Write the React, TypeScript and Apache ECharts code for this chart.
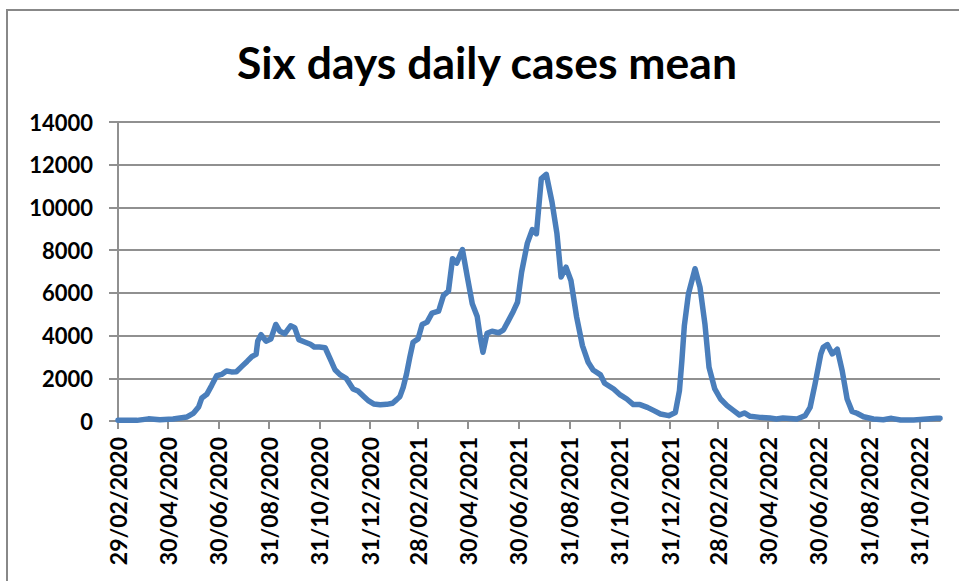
import React, { useEffect, useRef } from "react";
import * as echarts from "echarts";

const TITLE = "Six days daily cases mean";
const START_DATE = "2020-02-29";
const END_DATE = "2022-11-25";

const TICK_LABELS = [
  "29/02/2020", "30/04/2020", "30/06/2020", "31/08/2020", "31/10/2020", "31/12/2020",
  "28/02/2021", "30/04/2021", "30/06/2021", "31/08/2021", "31/10/2021", "31/12/2021",
  "28/02/2022", "30/04/2022", "30/06/2022", "31/08/2022", "31/10/2022",
];

const Y_TICKS = [0, 2000, 4000, 6000, 8000, 10000, 12000, 14000];

const pointDates = [
  "2020-02-29", "2020-03-23", "2020-04-06", "2020-04-20", "2020-05-06", "2020-05-23", "2020-05-31",
  "2020-06-06", "2020-06-10", "2020-06-16", "2020-06-22", "2020-06-28", "2020-07-04", "2020-07-10",
  "2020-07-16", "2020-07-22", "2020-07-29", "2020-08-04", "2020-08-10", "2020-08-15", "2020-08-17",
  "2020-08-21", "2020-08-27", "2020-09-02", "2020-09-08", "2020-09-13", "2020-09-19", "2020-09-26",
  "2020-10-01", "2020-10-06", "2020-10-13", "2020-10-20", "2020-10-25", "2020-10-31", "2020-11-07",
  "2020-11-13", "2020-11-19", "2020-11-25", "2020-12-03", "2020-12-11", "2020-12-17", "2020-12-24",
  "2020-12-30", "2021-01-05", "2021-01-13", "2021-01-21", "2021-01-28", "2021-02-02", "2021-02-06",
  "2021-02-10", "2021-02-14", "2021-02-18", "2021-02-22", "2021-02-28", "2021-03-05", "2021-03-11",
  "2021-03-17", "2021-03-25", "2021-03-31", "2021-04-06", "2021-04-11", "2021-04-16", "2021-04-23",
  "2021-04-29", "2021-05-05", "2021-05-11", "2021-05-15", "2021-05-18", "2021-05-23", "2021-05-29",
  "2021-06-06", "2021-06-12", "2021-06-18", "2021-06-24", "2021-06-29", "2021-07-04", "2021-07-11",
  "2021-07-17", "2021-07-22", "2021-07-28", "2021-08-03", "2021-08-10", "2021-08-16", "2021-08-21",
  "2021-08-27", "2021-09-02", "2021-09-09", "2021-09-16", "2021-09-23", "2021-09-29", "2021-10-08",
  "2021-10-13", "2021-10-24", "2021-11-01", "2021-11-09", "2021-11-17", "2021-11-25", "2021-12-04",
  "2021-12-12", "2021-12-20", "2021-12-30", "2022-01-07", "2022-01-12", "2022-01-15", "2022-01-18",
  "2022-01-23", "2022-01-31", "2022-02-06", "2022-02-12", "2022-02-17", "2022-02-24", "2022-03-03",
  "2022-03-11", "2022-03-19", "2022-03-26", "2022-04-01", "2022-04-08", "2022-04-20", "2022-05-02",
  "2022-05-10", "2022-05-18", "2022-06-04", "2022-06-14", "2022-06-20", "2022-06-26", "2022-07-03",
  "2022-07-06", "2022-07-11", "2022-07-17", "2022-07-23", "2022-07-29", "2022-08-04", "2022-08-10",
  "2022-08-16", "2022-08-24", "2022-09-05", "2022-09-17", "2022-09-27", "2022-10-08", "2022-10-24",
  "2022-11-05", "2022-11-21", "2022-11-25",
];

const pointValues = [
  30, 30, 100, 60, 90, 190, 370,
  650, 1080, 1250, 1670, 2120, 2180, 2340,
  2300, 2310, 2570, 2790, 3020, 3120, 3740,
  4040, 3740, 3840, 4520, 4200, 4090, 4460,
  4370, 3810, 3700, 3590, 3460, 3460, 3430,
  2920, 2400, 2170, 1980, 1500, 1400, 1150,
  940, 800, 760, 780, 830, 1000, 1150,
  1580, 2200, 2985, 3690, 3845, 4520, 4630,
  5050, 5140, 5880, 6080, 7600, 7390, 8030,
  6740, 5490, 4890, 3845, 3220, 4110, 4200,
  4130, 4270, 4700, 5140, 5560, 6970, 8330,
  8960, 8770, 11350, 11550, 10250, 8770, 6740,
  7200, 6580, 4860, 3530, 2750, 2390, 2160,
  1770, 1500, 1220, 1030, 770, 770, 640,
  485, 330, 250, 400, 1420, 2830, 4470,
  5960, 7130, 6270, 4550, 2520, 1500, 1030,
  720, 485, 280, 375, 220, 170, 140,
  95, 140, 95, 250, 640, 1735, 3140,
  3450, 3580, 3140, 3360, 2360, 1030, 450,
  360, 200, 95, 60, 125, 45, 45,
  80, 125, 125,
];

function buildDailyCategories(start: string, end: string): string[] {
  const out: string[] = [];
  const d = new Date(start + "T00:00:00Z");
  const e = new Date(end + "T00:00:00Z");
  while (d.getTime() <= e.getTime()) {
    out.push(d.toISOString().slice(0, 10));
    d.setUTCDate(d.getUTCDate() + 1);
  }
  return out;
}

function toDMY(iso: string): string {
  const [y, m, dd] = iso.split("-");
  return `${dd}/${m}/${y}`;
}

export default function App() {
  const ref = useRef<HTMLDivElement>(null);

  useEffect(() => {
    if (!ref.current) return;
    const chart = echarts.init(ref.current, undefined, { renderer: "svg" });
    const categories = buildDailyCategories(START_DATE, END_DATE);
    const seriesData = pointDates.map((d, i) => [d, pointValues[i]]);
    const isTick = (_idx: number, value: string) => TICK_LABELS.indexOf(toDMY(value)) >= 0;
    const gray = "#909090";
    const font = "Lato, 'Noto Sans', sans-serif";

    chart.setOption({
      animation: false,
      backgroundColor: "#ffffff",
      grid: { left: 118, right: 19, top: 122, bottom: 160, containLabel: false },
      xAxis: {
        type: "category",
        data: categories,
        boundaryGap: false,
        axisLine: { show: true, lineStyle: { color: gray, width: 2 } },
        axisTick: { show: true, interval: isTick, length: 8, inside: false, lineStyle: { color: gray, width: 2 } },
        axisLabel: {
          interval: isTick,
          rotate: 90,
          margin: 16,
          formatter: (v: string) => toDMY(v),
          fontFamily: font,
          fontWeight: "bold",
          fontSize: 23,
          color: "#000000",
        },
        splitLine: { show: false },
      },
      yAxis: {
        type: "value",
        min: Y_TICKS[0],
        max: Y_TICKS[Y_TICKS.length - 1],
        interval: Y_TICKS[1] - Y_TICKS[0],
        axisLine: { show: true, lineStyle: { color: gray, width: 2 } },
        axisTick: { show: true, length: 9, inside: false, lineStyle: { color: gray, width: 2 } },
        axisLabel: {
          margin: 25,
          formatter: (v: number) => String(v),
          fontFamily: font,
          fontWeight: "bold",
          fontSize: 22,
          color: "#000000",
        },
        splitLine: { show: true, lineStyle: { color: gray, width: 2 } },
      },
      series: [
        {
          type: "line",
          data: seriesData,
          showSymbol: false,
          symbol: "none",
          smooth: false,
          lineStyle: { color: "#4a7ebb", width: 5.5, join: "round", cap: "round" },
        },
      ],
      graphic: [
        {
          type: "rect",
          silent: true,
          shape: { x: 7, y: 10, width: 1200, height: 1000 },
          style: { fill: "none", stroke: "#888888", lineWidth: 2 },
        },
        {
          type: "text",
          silent: true,
          x: 487,
          y: 61,
          style: {
            text: TITLE,
            fontFamily: font,
            fontWeight: "bold",
            fontSize: 44.5,
            fill: "#000000",
            align: "center",
            verticalAlign: "middle",
          },
        },
      ],
    });

    return () => chart.dispose();
  }, []);

  return (
    <div
      ref={ref}
      style={{ position: "absolute", left: 0, top: 0, width: 959, height: 581 }}
    />
  );
}
